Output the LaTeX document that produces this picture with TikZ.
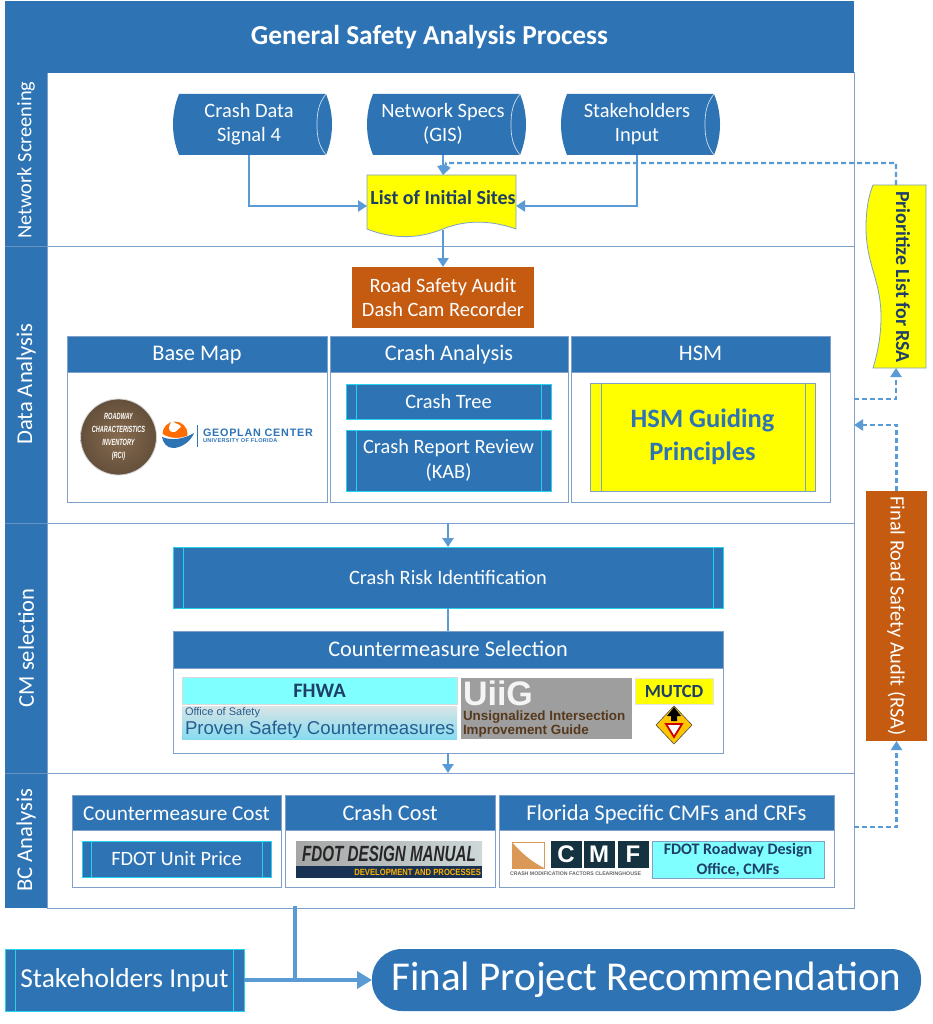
\documentclass[tikz,border=0pt]{standalone}
\usepackage{fontspec}
\usepackage{graphicx}
\setmainfont{Carlito}
\setsansfont{Liberation Sans}
\usetikzlibrary{arrows.meta,calc}
\definecolor{hb}{HTML}{2E74B5}
\definecolor{ln}{HTML}{5B9BD5}
\definecolor{frame}{HTML}{7FA0C8}
\definecolor{cy}{HTML}{22D3EA}
\definecolor{aq}{HTML}{7FFFFF}
\definecolor{org}{HTML}{C55A11}
\definecolor{ink}{HTML}{1F3F68}
\definecolor{yel}{HTML}{FFFF00}
\definecolor{cmfd}{HTML}{14323F}
\tikzset{
  x=1pt,y=-1pt,
  wtext/.style={text=white,font=\fontsize{20.4}{24.5}\selectfont,align=center},
  bandv/.style={wtext,rotate=90,anchor=center},
  bandw/.style={bandv,font=\fontsize{22.6}{26}\selectfont},
  panel/.style={draw=frame,line width=1pt,fill=white},
  hdr/.style={fill=hb,draw=frame,line width=.6pt,text=white,font=\fontsize{22.3}{26}\selectfont},
  inner/.style={fill=hb,draw=cy,line width=1pt,wtext},
  innerline/.style={draw=cy,line width=1pt},
  orangebox/.style={fill=org,draw=none,wtext},
  ylw/.style={fill=yel,draw=frame,line width=.8pt},
  flow/.style={draw=ln,line width=2.3pt,-{Triangle[length=9pt,width=11pt]}},
  plainflow/.style={draw=ln,line width=2.3pt},
  dflow/.style={draw=ln,line width=2.3pt,dash pattern=on 5pt off 3pt,-{Triangle[length=9pt,width=11pt]}},
  box/.style={minimum width=0pt,minimum height=0pt,inner sep=0pt,outer sep=0pt},
}
\begin{document}
\begin{tikzpicture}
\useasboundingbox (0,0) rectangle (932,1024);
\fill[white] (0,0) rectangle (932,1024);

% main frame
\draw[panel] (47,73) rectangle (854,908);
\node[box,fill=hb,minimum width=849pt,minimum height=72pt,text=white,font=\bfseries\fontsize{27.4}{32}\selectfont] (title) at (429.5,37) {\raisebox{5pt}{General Safety Analysis Process}};
\fill[hb] (5,73) rectangle (47,908);
\node[bandv] (l1) at (26,160) {Network Screening};
\node[bandw] (l2) at (26,384) {Data Analysis};
\node[bandw] (l3) at (26,648) {CM selection};
\node[bandw] (l4) at (26,840) {BC Analysis};
\draw[frame,line width=1pt] (47,246) -- (854,246);
\draw[frame,line width=1pt] (47,523) -- (854,523);
\draw[frame,line width=1pt] (47,773) -- (854,773);
\draw[frame!70!hb,line width=.7pt] (5,246) -- (47,246) (5,523) -- (47,523) (5,773) -- (47,773);

% cylinders
\foreach \n/\xa/\xb/\t in {cA/173/332/{Crash Data\\Signal 4},cB/367/526/{Network Specs\\(GIS)},cC/561/720/{Stakeholders\\Input}}{
  \fill[hb] (\xa+6,94) -- (\xb-6,94) .. controls (\xb-2,104) and (\xb,114) .. (\xb,124.5) .. controls (\xb,135) and (\xb-2,145) .. (\xb-6,155) -- (\xa+6,155) .. controls (\xa+2,145) and (\xa,135) .. (\xa,124.5) .. controls (\xa,114) and (\xa+2,104) .. (\xa+6,94) -- cycle;
  \draw[white!75!hb,line width=.7pt] (\xb-6,94) .. controls (\xb-14,104) and (\xb-15,114) .. (\xb-15,124.5) .. controls (\xb-15,135) and (\xb-14,145) .. (\xb-6,155);
  \node[box,wtext,minimum width=130pt,minimum height=61pt] (\n) at ({(\xa+\xb)/2-3.5},124) {\t};
}

% list document
\draw[ylw] (367,175) -- (516,175) -- (516,229) .. controls (485,218) and (460,222) .. (443,229) .. controls (425,236) and (400,242) .. (367,229) -- cycle;
\node[box,text=ink,font=\bfseries\fontsize{20}{24}\selectfont] (list) at (443,197.5) {List of Initial Sites};
\coordinate (listW) at (367,206);
\coordinate (listE) at (516,206);
\coordinate (listN) at (443,175);
\coordinate (listS) at (443,230);

% road safety audit
\node[box,orangebox,minimum width=182pt,minimum height=61pt] (rsa) at (443,297.5) {Road Safety Audit\\Dash Cam Recorder};

% Data analysis panels
\foreach \n/\xa/\xb/\t in {bm/67/327/Base Map,ca/330/568/Crash Analysis,hsm/571/830/HSM}{
  \draw[panel] (\xa,336) rectangle (\xb,502);
  \node[box,hdr,minimum width={(\xb-\xa)*1pt},minimum height=36pt,text height=15pt,text depth=3pt] (\n) at ({(\xa+\xb)/2},354) {\t};
}
% RCI logo
\shade[inner color=black!45!brown!80,outer color=black!62!brown!85] (118.5,437) circle (38);
\draw[white!65!gray,line width=.8pt] (118.5,437) circle (38);
\node[box,text=white,align=center,font=\bfseries\itshape\sffamily\fontsize{9}{13}\selectfont] (rci) at (118.5,437) {\scalebox{.62}[1]{ROADWAY}\\\scalebox{.62}[1]{CHARACTERISTICS}\\\scalebox{.62}[1]{INVENTORY}\\\scalebox{.62}[1]{(RCI)}};
% Geoplan logo
\fill[orange!85!red] (175,434) circle (12.5);
\fill[white] (172,421) .. controls (176,424) and (180,424) .. (181,427) .. controls (177,429) and (177,433) .. (172,432) .. controls (168,431) and (168,426) .. (172,421) -- cycle;
\fill[white] (161,433) .. controls (172,441) and (184,438) .. (194,433) -- (194,450) -- (161,450) -- cycle;
\fill[hb] (162,437) .. controls (172,441) and (184,439) .. (194,433) .. controls (190,443) and (180,448) .. (173,448) .. controls (167,448) and (163,443) .. (162,437) -- cycle;
\draw[hb,line width=1pt] (197,425) -- (197,447);
\node[box,text=hb,anchor=west,font=\bfseries\sffamily\fontsize{10.8}{13}\selectfont\addfontfeature{LetterSpace=7}] (geo) at (203,432.5) {GEOPLAN CENTER};
\node[box,text=hb,anchor=west,font=\bfseries\sffamily\fontsize{5.6}{7}\selectfont\addfontfeature{LetterSpace=5}] (uf) at (203,441) {UNIVERSITY OF FLORIDA};

% Crash analysis
\node[box,inner,minimum width=205pt,minimum height=35pt] (tree) at (448.5,401.5) {Crash Tree};
\draw[innerline] (356,384) -- (356,419) (541,384) -- (541,419);
\node[box,inner,minimum width=205pt,minimum height=61pt] (rep) at (448.5,460.5) {Crash Report Review\\(KAB)};
\draw[innerline] (356,430) -- (356,491) (541,430) -- (541,491);

% HSM
\node[box,fill=yel,draw=frame,line width=.8pt,minimum width=225pt,minimum height=108pt,align=center,text=hb,font=\bfseries\fontsize{26.5}{33.5}\selectfont] (hg) at (702.5,437) {HSM Guiding\\Principles};
\draw[frame,line width=.8pt] (601,383) -- (601,491) (805,383) -- (805,491);

% Crash risk
\node[box,inner,minimum width=550pt,minimum height=61pt] (risk) at (448,577.5) {Crash Risk Identification};
\draw[innerline] (183,547) -- (183,608) (713,547) -- (713,608);

% Countermeasure Selection
\draw[panel] (173,631) rectangle (723,753);
\node[box,hdr,minimum width=550pt,minimum height=37pt,text height=16pt,text depth=2pt] (cms) at (448,649.5) {Countermeasure Selection};
\node[box,fill=aq,draw=black!15,line width=.5pt,minimum width=275pt,minimum height=27pt,text=ink,font=\bfseries\fontsize{20.5}{22}\selectfont] (fhwa) at (319.5,690.5) {FHWA};
\shade[top color=aq!30!gray!30!white,bottom color=ln!60!cyan!60] (182,706) rectangle (457,739);
\node[box,anchor=west,text=hb!80!black,font=\sffamily\fontsize{11}{12}\selectfont] (oos) at (185,713) {Office of Safety};
\node[box,anchor=west,text=hb!80!black,font=\sffamily\fontsize{18.6}{20}\selectfont] (psc) at (185,730) {Proven Safety Countermeasures};
\fill[black!38] (461,678) rectangle (632,739);
\node[box,anchor=west,text=white!92!gray,font=\bfseries\sffamily\fontsize{34}{36}\selectfont] (uiig) at (463,693.5) {UiiG};
\node[box,anchor=north west,align=left,text=black!55!brown,font=\bfseries\sffamily\fontsize{13.4}{14}\selectfont] (uig) at (463,711) {Unsignalized Intersection\\Improvement Guide};
\node[box,fill=yel,draw=black!10,line width=.5pt,minimum width=78pt,minimum height=26pt,text=ink,font=\bfseries\fontsize{18.5}{20}\selectfont] (mutcd) at (674,691) {MUTCD};
% sign
\draw[fill=orange!45!yellow,draw=black!70,line width=.6pt] (674,706) -- (692,725) -- (674,744) -- (656,725) -- cycle;
\fill[black] (674,707) -- (681,716) -- (677,716) -- (677,721) -- (671,721) -- (671,716) -- (667,716) -- cycle;
\draw[fill=white,draw=red!80!black,line width=1.8pt] (666,724) -- (682,724) -- (674,737) -- cycle;

% BC
\foreach \n/\xa/\xb/\t/\s in {cc/72/281/Countermeasure Cost/21.2,kc/285/495/Crash Cost/22.3,fl/499/834/Florida Specific CMFs and CRFs/22.5}{
  \draw[panel] (\xa,795) rectangle (\xb,887);
  \node[box,hdr,minimum width={(\xb-\xa)*1pt},minimum height=35pt,text height=17pt,text depth=1pt,font=\fontsize{\s}{26}\selectfont] (\n) at ({(\xa+\xb)/2},812.5) {\t};
}
\node[box,inner,minimum width=189pt,minimum height=36pt] (up) at (176.5,859) {FDOT Unit Price};
\draw[innerline] (91,841) -- (91,877) (262,841) -- (262,877);
% Design manual
\shade[left color=gray!70,right color=cyan!12!gray!35] (296,841) rectangle (482,866);
\fill[ink!80!black] (296,866) rectangle (482,878);
\node[box,text=black!85,font=\bfseries\itshape\sffamily\fontsize{22}{24}\selectfont] (dm) at (389,853.5) {\scalebox{.69}[1]{FDOT DESIGN MANUAL}};
\node[box,anchor=east,text=orange!60!yellow,font=\bfseries\sffamily\fontsize{9}{10}\selectfont] (dp) at (481,872) {\scalebox{.85}[1]{DEVELOPMENT AND PROCESSES}};
% CMF logo
\draw[brown!70!orange!80,line width=.8pt] (512,842) rectangle (544,868);
\fill[brown!70!orange!80] (512,842) -- (512,868) -- (544,868) .. controls (532,862) and (520,852) .. (512,842) -- cycle;
\foreach \n/\xa/\l in {cmfC/550/C,cmfM/583/M,cmfF/617/F}{
  \node[box,fill=cmfd,minimum width=31pt,minimum height=27pt,text=white,font=\bfseries\sffamily\fontsize{24}{26}\selectfont] (\n) at (\xa+16,854.5) {\l};
}
\node[box,anchor=west,text=black!60,font=\bfseries\sffamily\fontsize{5.2}{7}\selectfont] (cmft) at (510,873.5) {CRASH MODIFICATION FACTORS CLEARINGHOUSE};
\node[box,fill=aq,draw=frame,line width=.7pt,minimum width=172pt,minimum height=37pt,align=center,text=ink,font=\bfseries\fontsize{16}{20}\selectfont] (rdo) at (738,859.5) {FDOT Roadway Design\\Office, CMFs};

% right side
\node[box,orangebox,minimum width=61pt,minimum height=250pt] (fr) at (896.5,616) {};
\node[wtext,rotate=-90,text=white] (frt) at (896.5,616) {Final Road Safety Audit (RSA)};
\draw[ylw] (873,185) -- (926,185) -- (926,368) -- (873,368) .. controls (878,352) and (881,335) .. (881,317) .. controls (881,280) and (866,265) .. (866,227) .. controls (866,212) and (868,197) .. (873,185) -- cycle;
\node[box,rotate=-90,text=ink,font=\bfseries\fontsize{19.9}{24}\selectfont] (prio) at (903,277) {Prioritize List for RSA};
\coordinate (prN) at (896,185);
\coordinate (prS) at (896,368);

% bottom
\node[box,inner,minimum width=239pt,minimum height=62pt,font=\fontsize{27.4}{32}\selectfont] (si) at (124.5,980) {Stakeholders Input};
\draw[innerline] (15,949) -- (15,1011) (233,949) -- (233,1011);
\node[box,fill=hb,rounded corners=30pt,minimum width=549pt,minimum height=62pt,text=white,text height=29pt,text depth=9pt,font=\fontsize{41}{48}\selectfont] (fp) at (646.5,980) {Final Project Recommendation};
\coordinate (mainS) at (295,906);

% connectors
\draw[flow] (249,155) -- (249,206) -- (listW);
\draw[flow] (443,155) -- (listN);
\draw[flow] (637,155) -- (637,206) -- (listE);
\draw[flow] (listS) -- (rsa.north);
\draw[flow] (448,523) -- (448,547);
\draw[flow] (448,753) -- (448,773);
\draw[plainflow] (448,608) -- (448,631);
\draw[dflow] (prN) -- (896,163) -- (446,163) -- (443,175);
\draw[dflow] (854,399) -- (896,399) -- (prS);
\draw[dflow] (fr.north) -- (896.5,425) -- (854,425);
\draw[dflow] (854,827) -- (896.5,827) -- (fr.south);
\draw[draw=ln,line width=4.8pt,-{Triangle[length=15pt,width=17pt]}] (si.east) -- (fp.west);
\draw[draw=ln,line width=4.5pt] (mainS) -- (295,980);
\end{tikzpicture}
\end{document}
